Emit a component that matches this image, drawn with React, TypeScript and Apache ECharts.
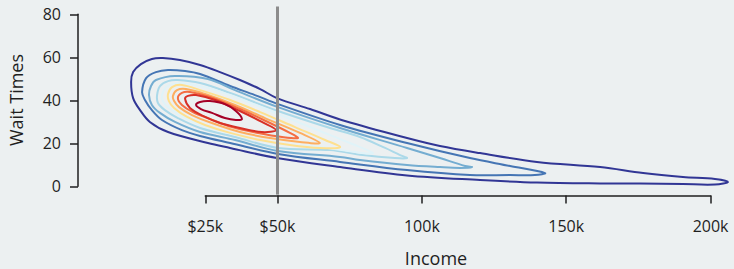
import React, { useEffect, useRef } from "react";
import * as echarts from "echarts";

// Income in $k, wait times in minutes
const incomeTicks = [25, 50, 100, 150, 200];
const incomeTickLabels = ["$25k", "$50k", "100k", "150k", "200k"];
const waitTicks = [0, 20, 40, 60, 80];
const referenceIncome = 50;

// density contours, outer (lowest level) to inner (highest level)
const level1: [number, number][] = [
  [-0.7, 48.4], [0.0, 53.0], [2.7, 56.7], [6.5, 59.1], [10.3, 59.5], [16.2, 58.6], [23.2, 56.3],
  [30.1, 53.0], [37.0, 49.3], [44.0, 45.1], [49.8, 40.9], [61.3, 35.8], [73.4, 30.2], [94.9, 22.3],
  [106.3, 18.6], [120.2, 15.3], [139.9, 11.2], [161.8, 8.8], [176.7, 6.0], [190.5, 4.2], [201.6, 3.3],
  [206.1, 1.9], [201.6, 0.7], [190.5, 0.9], [175.6, 1.2], [161.8, 1.2], [139.9, 1.6], [120.2, 2.8],
  [94.9, 4.9], [71.7, 8.8], [49.8, 13.0], [33.6, 17.7], [25.9, 20.0], [12.1, 25.1], [5.8, 29.8],
  [2.4, 35.3], [0.0, 40.9],
];
const level2: [number, number][] = [
  [3.1, 43.7], [4.5, 50.2], [7.9, 53.0], [12.1, 54.0], [18.0, 53.5], [23.2, 52.1], [33.6, 46.5],
  [42.2, 42.3], [50.2, 38.1], [71.7, 28.4], [94.9, 20.0], [116.7, 13.0], [130.6, 9.3], [142.7, 6.0],
  [139.2, 5.1], [130.6, 5.1], [116.7, 5.1], [94.9, 7.4], [71.7, 11.2], [50.2, 14.9], [33.6, 20.0],
  [23.2, 23.3], [16.9, 26.0], [10.0, 30.7], [6.5, 35.3], [4.1, 40.0],
];
const level3: [number, number][] = [
  [5.5, 42.3], [6.2, 46.5], [7.9, 49.3], [14.5, 51.2], [25.9, 49.8], [35.3, 44.6], [50.2, 36.7],
  [71.7, 27.0], [94.9, 17.7], [106.3, 13.0], [115.0, 9.3], [117.4, 8.8], [113.3, 8.4], [106.3, 8.8],
  [94.9, 9.8], [78.6, 12.1], [71.7, 13.5], [50.2, 16.3], [35.3, 21.4], [23.2, 25.1], [14.5, 29.8],
  [9.3, 34.0], [6.5, 37.7],
];
const level4: [number, number][] = [
  [8.3, 42.3], [9.3, 46.5], [12.1, 48.8], [15.5, 49.3], [23.2, 47.9], [33.6, 43.3], [50.2, 34.9],
  [68.2, 27.0], [78.6, 22.8], [87.3, 17.7], [92.5, 14.4], [94.9, 13.0], [90.7, 13.0], [79.6, 14.4],
  [68.2, 16.7], [50.2, 17.7], [35.3, 22.8], [23.2, 27.0], [15.5, 31.6], [11.0, 35.3], [8.6, 38.6],
];
const level5: [number, number][] = [
  [10.0, 42.3], [11.4, 46.0], [13.8, 47.4], [16.6, 47.9], [24.9, 46.0], [33.6, 42.3], [50.2, 33.5],
  [64.7, 25.6], [75.1, 20.0], [83.1, 15.3], [76.9, 15.8], [64.7, 18.1], [50.2, 19.6], [35.3, 24.0],
  [23.2, 28.4], [16.2, 33.0], [12.1, 36.7], [10.3, 39.5],
];
const level6: [number, number][] = [
  [12.1, 42.8], [13.5, 46.0], [16.9, 47.0], [23.2, 44.6], [33.6, 40.0], [44.0, 34.4], [56.1, 27.4],
  [66.5, 21.4], [71.7, 18.1], [64.7, 17.7], [54.3, 19.1], [44.0, 21.4], [33.6, 24.7], [24.9, 28.4],
  [18.7, 32.1], [14.2, 36.3], [12.4, 39.5],
];
const level7: [number, number][] = [
  [13.8, 41.9], [15.2, 44.6], [18.3, 45.1], [24.9, 42.8], [35.3, 37.7], [45.7, 31.6], [57.8, 24.7],
  [64.7, 20.0], [57.8, 20.5], [47.4, 22.3], [37.0, 25.1], [27.3, 29.3], [20.4, 33.0], [15.9, 36.7],
  [14.2, 39.5],
];
const level8: [number, number][] = [
  [15.5, 40.9], [16.9, 43.3], [19.7, 43.7], [26.6, 41.4], [37.0, 35.8], [47.4, 29.3], [54.3, 24.7],
  [57.1, 22.3], [51.6, 22.8], [43.3, 24.7], [34.3, 27.4], [26.6, 31.2], [20.7, 34.4], [16.9, 37.7],
];
const level9: [number, number][] = [
  [18.0, 40.5], [19.0, 41.9], [21.8, 42.3], [28.4, 40.0], [37.0, 34.9], [44.6, 29.8], [49.5, 26.0],
  [44.6, 25.1], [37.0, 27.0], [30.1, 29.3], [24.2, 32.6], [19.7, 36.3],
];
const level10: [number, number][] = [
  [21.8, 37.7], [23.2, 39.1], [26.6, 39.5], [31.8, 38.1], [35.6, 34.9], [37.7, 31.2], [35.6, 30.7],
  [31.8, 31.6], [27.3, 34.0], [23.5, 35.8],
];

const contours = [level1, level2, level3, level4, level5, level6, level7, level8, level9, level10];
const contourColors = [
  "#313695", "#4575b4", "#74add1", "#abd9e9", "#e0f3f8",
  "#fee090", "#fdae61", "#f46d43", "#d73027", "#a50026",
];

const FONT = "'Open Sans', 'Noto Sans', sans-serif";
const INK = "#1f1f1f";

export default function App() {
  const ref = useRef<HTMLDivElement>(null);
  useEffect(() => {
    const chart = echarts.init(ref.current!, null, { renderer: "svg" });
    const contourSeries = contours.map((c, i) => ({
      type: "custom",
      coordinateSystem: "cartesian2d",
      xAxisIndex: 0,
      yAxisIndex: 0,
      data: c,
      encode: { x: 0, y: 1 },
      clip: false,
      silent: true,
      z: 2,
      renderItem: (params: any, api: any) => {
        if (params.dataIndex !== 0) return null;
        return {
          type: "polygon",
          shape: { points: c.map((p) => api.coord(p)), smooth: 0.35 },
          style: { fill: "none", stroke: contourColors[i], lineWidth: 2 },
        };
      },
    }));
    const option: any = {
      animation: false,
      backgroundColor: "#ecf0f1",
      grid: [
        { left: 75.4, top: 6.5, width: 649.4, height: 188.1, containLabel: false, outerBoundsMode: "none" },
        { left: 78, top: 14.3, width: 10, height: 172, containLabel: false, outerBoundsMode: "none" },
        { left: 205.3, top: 150, width: 505.3, height: 45.5, containLabel: false, outerBoundsMode: "none" },
      ],
      xAxis: [
        { gridIndex: 0, type: "value", min: -20, max: 205, show: false },
        { gridIndex: 1, type: "value", min: 0, max: 1, show: false },
        {
          gridIndex: 2,
          type: "value",
          min: incomeTicks[0],
          max: incomeTicks[incomeTicks.length - 1],
          position: "bottom",
          axisLine: { show: true, lineStyle: { color: INK, width: 1.5 } },
          axisTick: { show: true, length: 8, customValues: incomeTicks, lineStyle: { color: INK, width: 1.5 } },
          axisLabel: {
            show: true,
            customValues: incomeTicks,
            margin: 22,
            fontSize: 16,
            fontFamily: FONT,
            color: INK,
            formatter: (v: number) => incomeTickLabels[incomeTicks.indexOf(v)] ?? "",
          },
          splitLine: { show: false },
        },
      ],
      yAxis: [
        { gridIndex: 0, type: "value", min: -4, max: 83.5, show: false },
        {
          gridIndex: 1,
          type: "value",
          min: waitTicks[0],
          max: waitTicks[waitTicks.length - 1],
          interval: 20,
          position: "left",
          axisLine: { show: true, lineStyle: { color: INK, width: 1.5 } },
          axisTick: { show: true, length: 8, lineStyle: { color: INK, width: 1.5 } },
          axisLabel: { show: true, margin: 17, fontSize: 16, fontFamily: FONT, color: INK },
          splitLine: { show: false },
        },
        { gridIndex: 2, type: "value", min: 0, max: 1, show: false },
      ],
      graphic: [
        {
          type: "text",
          x: 16,
          y: 100,
          rotation: Math.PI / 2,
          style: {
            text: "Wait Times",
            fontSize: 18,
            fontFamily: FONT,
            fill: INK,
            textAlign: "center",
            textVerticalAlign: "middle",
          },
        },
        {
          type: "text",
          x: 436,
          y: 258,
          style: {
            text: "Income",
            fontSize: 18,
            fontFamily: FONT,
            fill: INK,
            textAlign: "center",
            textVerticalAlign: "middle",
          },
        },
      ],
      series: [
        ...contourSeries,
        {
          type: "line",
          xAxisIndex: 0,
          yAxisIndex: 0,
          data: [],
          z: 5,
          markLine: {
            silent: true,
            symbol: "none",
            label: { show: false },
            lineStyle: { color: "#8c8c8c", width: 3, type: "solid" },
            data: [{ xAxis: referenceIncome }],
          },
        },
      ],
    };
    chart.setOption(option);
    return () => chart.dispose();
  }, []);
  return (
    <div
      ref={ref}
      style={{ position: "absolute", left: 0, top: 0, width: 734, height: 269 }}
    />
  );
}
